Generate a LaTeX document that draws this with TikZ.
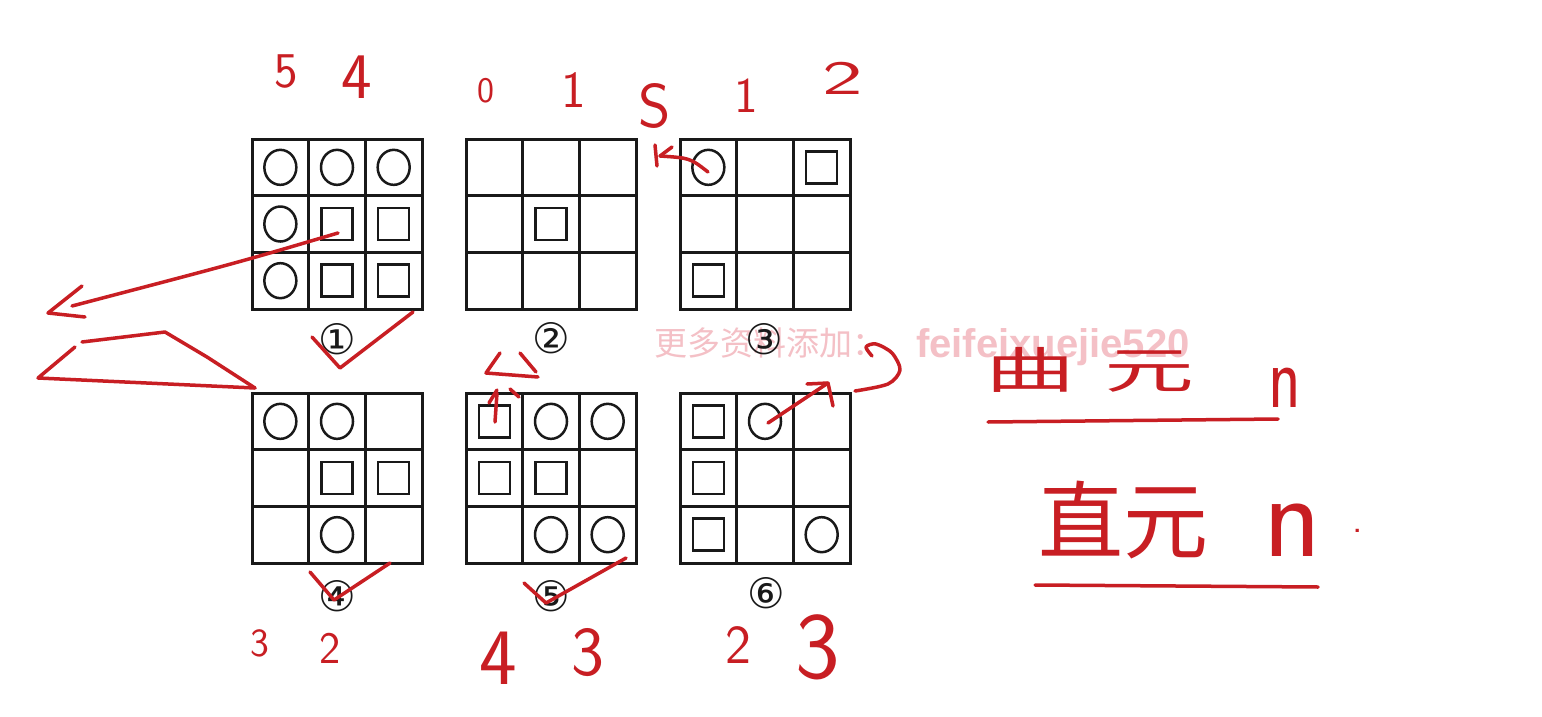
\documentclass[tikz,border=0pt]{standalone}
\usepackage{fontspec}
\newfontfamily\cjk{Noto Sans CJK SC}
\newfontfamily\dejavu{DejaVu Sans}
\newfontfamily\wmlatin{Liberation Sans}
\definecolor{inkred}{RGB}{200,30,35}
\definecolor{wmpink}{RGB}{244,192,198}
\definecolor{gridblack}{RGB}{25,25,25}
\newcommand\ggrid[3]{%
  \node[gridbox, anchor=north west] (#3) at (#1,#2) {};
  \foreach \i in {1,2} {
    \draw[gridline] ({#1+56.67*\i},#2) -- ++(0,170);
    \draw[gridline] (#1,{#2+56.67*\i}) -- ++(170,0);
  }}
\newcommand\gcirc[4]{\draw[shp] ({#1+56.67*#3-28.33},{#2+56.67*#4-28.33}) ellipse [x radius=16, y radius=17.5];}
\newcommand\gsq[4]{\draw[shp] ({#1+56.67*#3-28.33-15.5},{#2+56.67*#4-28.33-16}) rectangle ++(31,32);}
\newcommand\fs[1]{\fontsize{#1}{#1}\selectfont}
\tikzset{
  gridline/.style={line width=3pt, draw=gridblack},
  gridbox/.style={draw=gridblack, line width=3pt, minimum width=170pt, minimum height=170pt, inner sep=0pt, outer sep=0pt},
  shp/.style={line width=2.5pt, draw=gridblack},
  ink/.style={line width=3.5pt, draw=inkred, line cap=round, line join=round},
  inktext/.style={text=inkred, inner sep=0pt, outer sep=0pt},
  numlabel/.style={inner sep=0pt, font=\dejavu\fs{42}, text=gridblack},
}
\begin{document}
\begin{tikzpicture}[x=1pt,y=-1pt]
\useasboundingbox[fill=white] (0,0) rectangle (1542,717);

% watermark
\node[anchor=base west, inner sep=0pt, text=wmpink, font=\cjk\fs{33}] (wmcn) at (654,355) {更多资料添加：};
\node[anchor=base west, inner sep=0pt, text=wmpink, font=\wmlatin\bfseries\fs{40}] (wmen) at (916,357) {feifeixuejie520};

% grids
\ggrid{252}{139}{g1}
\ggrid{466}{139}{g2}
\ggrid{680}{139}{g3}
\ggrid{252}{393}{g4}
\ggrid{466}{393}{g5}
\ggrid{680}{393}{g6}

% grid 1
\gcirc{252}{139}{1}{1}\gcirc{252}{139}{2}{1}\gcirc{252}{139}{3}{1}
\gcirc{252}{139}{1}{2}\gsq{252}{139}{2}{2}\gsq{252}{139}{3}{2}
\gcirc{252}{139}{1}{3}\gsq{252}{139}{2}{3}\gsq{252}{139}{3}{3}
% grid 2
\gsq{466}{139}{2}{2}
% grid 3
\gcirc{680}{139}{1}{1}\gsq{680}{139}{3}{1}\gsq{680}{139}{1}{3}
% grid 4
\gcirc{252}{393}{1}{1}\gcirc{252}{393}{2}{1}
\gsq{252}{393}{2}{2}\gsq{252}{393}{3}{2}
\gcirc{252}{393}{2}{3}
% grid 5
\gsq{466}{393}{1}{1}\gcirc{466}{393}{2}{1}\gcirc{466}{393}{3}{1}
\gsq{466}{393}{1}{2}\gsq{466}{393}{2}{2}
\gcirc{466}{393}{2}{3}\gcirc{466}{393}{3}{3}
% grid 6
\gsq{680}{393}{1}{1}\gcirc{680}{393}{2}{1}
\gsq{680}{393}{1}{2}
\gsq{680}{393}{1}{3}\gcirc{680}{393}{3}{3}

% circled labels
\node[numlabel] (n1) at (337,339) {①};
\node[numlabel] (n2) at (551,338) {②};
\node[numlabel] (n3) at (764,339) {③};
\node[numlabel] (n4) at (337,596) {④};
\node[numlabel] (n5) at (551,596) {⑤};
\node[numlabel] (n6) at (766,593) {⑥};

% handwritten numbers (top)
\node[inktext, font=\sffamily\fs{50}] (t1a) at (286,72) {5};
\node[inktext, font=\sffamily\fs{65}] (t1b) at (357,77) {4};
\node[inktext, font=\sffamily\fs{36}] (t2a) at (486,91) {0};
\node[inktext, font=\sffamily\fs{52}] (t2b) at (574,90) {1};
\node[inktext, font=\sffamily\fs{62}] (t3s) at (655,106) {S};
\node[inktext, font=\sffamily\fs{50}] (t3a) at (746,96) {1};
\node[inktext, font=\sffamily\fs{48}, xscale=1.8, transform shape] (t3b) at (843,78) {2};
% handwritten numbers (bottom)
\node[inktext, font=\sffamily\fs{40}] (b4a) at (260,643) {3};
\node[inktext, font=\sffamily\fs{45}] (b4b) at (330,648) {2};
\node[inktext, font=\sffamily\fs{80}] (b5a) at (498,658) {4};
\node[inktext, font=\sffamily\fs{70}] (b5b) at (588,653) {3};
\node[inktext, font=\sffamily\fs{55}] (b6a) at (738,645) {2};
\node[inktext, font=\sffamily\fs{95}] (b6b) at (818,647) {3};

% right side notes
\node[inktext, font=\cjk\fs{90}, yscale=0.55, transform shape] (cu) at (1090,370) {曲\hspace{30pt}元};
\node[inktext, font=\sffamily\fs{90}, xscale=0.75, transform shape] (cun) at (1285,388) {n};
\draw[ink] (988,422) -- (1278,419);
\node[inktext, font=\cjk\fs{85}] (zh) at (1123,520) {直元};
\node[inktext, font=\sffamily\fs{120}] (zhn) at (1293,530) {n};
\node[inktext, font=\sffamily\fs{40}] (zhd) at (1358,531) {.};
\draw[ink] (1035,585) -- (1318,587);

% check marks
\draw[ink] (312,337) -- (340,368) -- (413,312);
\draw[ink] (310,572) -- (334,600) -- (390,563);
\draw[ink] (524,583) -- (546,603) -- (626,558);

% arrow from grid 1
\draw[ink] (338,233) .. controls (240,262) .. (72,306);
\draw[ink] (82,286) -- (48,313) -- (85,317);
% triangle left
\draw[ink] (75,347) -- (38,378) -- (255,388);
\draw[ink] (255,388) -- (207,357) -- (165,332) -- (82,342);

% arrow in grid 3
\draw[ink] (708,172) .. controls (690,158) .. (660,156);
\draw[ink] (655,145) -- (657,166);
\draw[ink] (660,156) -- (672,147);

% grid 5 triangle and arrow
\draw[ink] (500,353) -- (486,373) -- (538,377);
\draw[ink] (520,353) -- (536,372);
\draw[ink] (495,422) -- (497,393);
\draw[ink] (489,403) -- (497,390);
\draw[ink] (510,389) -- (519,397);

% grid 6 arrow and hook
\draw[ink] (768,423) -- (828,383);
\draw[ink] (807,384) -- (828,383) -- (833,406);
\draw[ink] plot[smooth] coordinates {(872,356) (866,347) (876,344) (892,353) (900,370) (888,384) (855,391)};
\end{tikzpicture}
\end{document}
